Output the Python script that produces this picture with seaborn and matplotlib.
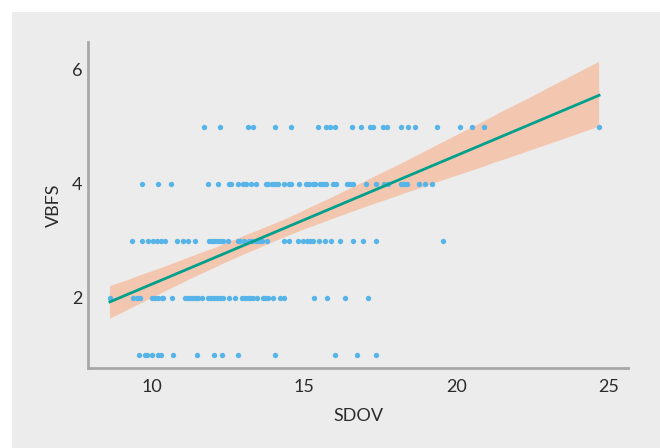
# Scatter of VBFS against SDOV with a linear fit and confidence band
import numpy as np
import pandas as pd
import matplotlib.pyplot as plt
from matplotlib.patches import Rectangle
import seaborn as sns

# SDOV values, one list per VBFS level
sdov_1 = [9.58, 9.77, 9.85, 9.99, 10.21, 10.30, 10.70, 11.47, 12.05, 12.31,
          12.81, 14.04, 16.01, 16.72, 17.36]
sdov_2 = [8.62, 9.37, 9.50, 9.61, 9.99, 10.10, 10.21, 10.32, 10.37, 10.65,
          11.08, 11.17, 11.25, 11.36, 11.44, 11.52, 11.63, 11.85, 11.94, 12.04,
          12.12, 12.23, 12.32, 12.54, 12.73, 12.95, 13.05, 13.14, 13.22, 13.33,
          13.44, 13.64, 13.71, 13.80, 13.96, 14.20, 14.33, 15.32, 15.74, 16.34,
          17.10]
sdov_3 = [9.35, 9.66, 9.88, 10.02, 10.15, 10.30, 10.43, 10.81, 11.03, 11.19,
          11.42, 11.88, 11.96, 12.04, 12.12, 12.23, 12.34, 12.49, 12.81, 12.89,
          13.03, 13.20, 13.29, 13.41, 13.51, 13.62, 13.77, 14.34, 14.51, 14.80,
          14.97, 15.08, 15.19, 15.30, 15.49, 15.68, 15.87, 16.17, 16.61, 16.94,
          17.35, 19.57]
sdov_4 = [9.68, 10.19, 10.63, 11.83, 12.18, 12.52, 12.59, 12.81, 12.98, 13.08,
          13.25, 13.43, 13.73, 13.82, 13.93, 14.04, 14.15, 14.33, 14.51, 14.56,
          14.82, 15.06, 15.17, 15.28, 15.35, 15.52, 15.63, 15.71, 15.95, 16.04,
          16.39, 16.50, 16.61, 17.02, 17.35, 17.63, 17.74, 18.17, 18.28, 18.38,
          18.78, 18.98, 19.19]
sdov_5 = [11.72, 12.24, 13.14, 13.32, 14.04, 14.57, 15.46, 15.71, 15.85, 16.01,
          16.57, 16.86, 17.16, 17.27, 17.60, 17.73, 18.17, 18.41, 18.63, 19.36,
          20.11, 20.52, 20.89, 24.68]

levels = {1: sdov_1, 2: sdov_2, 3: sdov_3, 4: sdov_4, 5: sdov_5}
df = pd.DataFrame([(x, lvl) for lvl, xs in levels.items() for x in xs],
                  columns=['SDOV', 'VBFS'])

plt.rcParams['font.family'] = ['Lato', 'DejaVu Sans']
txt = '#2b2b2b'
bg = '#ebeceb'
fig = plt.figure(figsize=(6.6, 4.48), dpi=100, facecolor='white')
fig.patches.append(Rectangle((12 / 660, 0), 1, 1 - 12 / 448, transform=fig.transFigure,
                             facecolor=bg, edgecolor='none', zorder=-10))
ax = fig.add_axes([88 / 660, 80 / 448, 540 / 660, 326 / 448])
ax.set_facecolor(bg)

sns.regplot(data=df, x='SDOV', y='VBFS', ax=ax, ci=95, seed=1,
            scatter_kws=dict(s=15, color='#56b4e9', alpha=1, linewidths=0, zorder=3),
            line_kws=dict(color='#00a08c', lw=2, zorder=4))
# recolour the confidence band, keep it under the dots
for coll in ax.collections[1:]:
    coll.set_facecolor('#f3c6af')
    coll.set_alpha(1)
    coll.set_zorder(2)

ax.set_xlim(7.9, 25.63)
ax.set_ylim(0.77, 6.49)
ax.set_xticks([10, 15, 20, 25])
ax.set_yticks([2, 4, 6])
for s in ['top', 'right']:
    ax.spines[s].set_visible(False)
for s in ['left', 'bottom']:
    ax.spines[s].set_color('#a8a8a8')
    ax.spines[s].set_linewidth(2)
ax.tick_params(length=0, labelsize=13, colors=txt)
ax.tick_params(axis='x', pad=8)
ax.tick_params(axis='y', pad=4)
ax.set_xlabel('SDOV', fontsize=13, color=txt, labelpad=9)
ax.set_ylabel('VBFS', fontsize=13, color=txt, labelpad=7)

fig.savefig('out.png', dpi=100, facecolor=fig.get_facecolor())
